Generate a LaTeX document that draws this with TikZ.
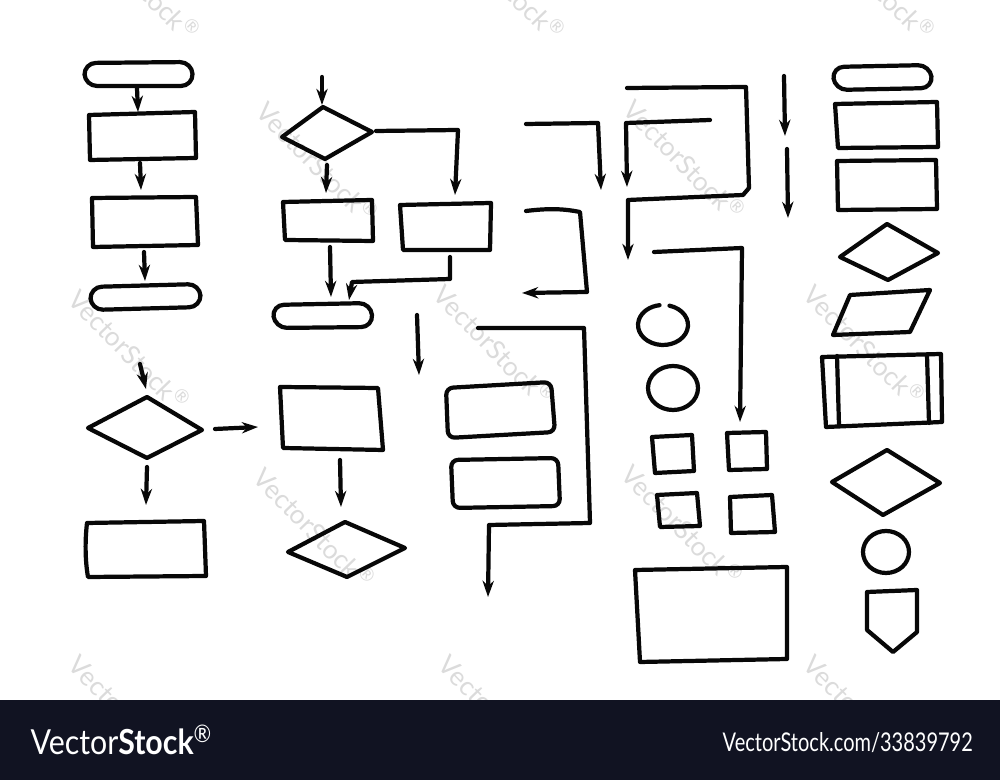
\documentclass[tikz,border=0pt]{standalone}
\usepackage{fontspec}
\newfontfamily\bannerfont{Lato}
\usetikzlibrary{arrows.meta}
\definecolor{banner}{RGB}{17,19,34}
\definecolor{ink}{RGB}{8,8,8}
\tikzset{
  hd/.style={draw=ink,line width=1.2pt,line cap=round,line join=round},
  term/.style={hd,rounded corners=0.12cm},
  rrect/.style={hd,rounded corners=0.07cm},
  arr/.style={hd,-{Stealth[length=4.6pt,width=3.2pt]}},
  wmk/.style={text=gray!28,font=\bannerfont\fontsize{7.5}{8}\selectfont,rotate=-46,inner sep=0pt},
}
\begin{document}
\begin{tikzpicture}[x=0.01cm,y=-0.01cm]
\clip (0,0) rectangle (1000,780);
\fill[white] (0,0) rectangle (1000,780);

% ---------- watermarks ----------
\foreach \wx/\wy [count=\i] in {140/-20,505/-20,875/-20,318/162,685/160,130/350,495/345,865/345,315/528,683/525,130/715,500/715,865/715}
  \node[wmk] (wm\i) at (\wx,\wy) {VectorStock\textsuperscript{®}};

% ---------- column 1 ----------
\draw[term] (84,63) -- (192,62) -- (193,86) -- (85,86) -- cycle;
\draw[arr] (137,88) -- (138,112);
\draw[hd] (89,115) -- (195,112) -- (196,158) -- (90,160) -- cycle;
\draw[arr] (140,163) -- (141,190);
\draw[hd] (92,198) -- (196,197) -- (198,245) -- (93,247) -- cycle;
\draw[arr] (144,252) -- (145,281);
\draw[term] (90,287) -- (200,284) -- (201,307) -- (91,310) -- cycle;

\draw[arr] (140,364) -- (146,389);
\draw[hd] (88,428) -- (147,397) -- (202,430) -- (147,458) -- cycle;
\draw[arr] (215,429) -- (258,427);
\draw[arr] (147,467) -- (146,505);
\draw[hd] (87,523) -- (204,521) -- (206,576) -- (88,577) .. controls (85,560) and (85,540) .. (87,523);

% ---------- column 2 ----------
\draw[arr] (322,77) -- (322,105);
\draw[hd] (282,137) -- (323,107) -- (372,132) -- (325,159) -- cycle;
\draw[arr] (376,131) -- (458,130) -- (455,195);
\draw[arr] (327,165) -- (326,193);
\draw[hd] (283,202) -- (372,200) -- (373,241) -- (285,240) -- cycle;
\draw[hd] (400,205) -- (491,203) -- (490,250) -- (403,250) -- cycle;
\draw[arr] (330,247) -- (331,297);
\draw[arr] (450,257) -- (450,279) -- (352,282) -- (349,300);
\draw[term] (272,305) -- (371,303) -- (373,327) -- (275,328) -- cycle;

\draw[hd] (280,387) -- (378,388) -- (383,450) -- (283,448) -- cycle;
\draw[arr] (340,460) -- (341,507);
\draw[hd] (288,552) -- (345,522) -- (405,548) -- (347,577) -- cycle;
\draw[arr] (417,315) -- (419,375);

% ---------- column 3 ----------
\draw[arr] (526,124) -- (598,123) -- (601,190);
\draw[arr] (627,88) -- (746,87) -- (749,188) -- (743,195) -- (628,200) -- (628,260);
\draw[arr] (710,120) -- (626,123) -- (627,187);
\draw[arr] (526,211) .. controls (550,208) and (565,209) .. (580,212) -- (587,292) -- (522,293);
\draw[arr] (654,252) -- (742,248) -- (740,422);
\draw[arr] (784,76) -- (785,136);
\draw[arr] (787,149) -- (788,218);

\draw[arr] (478,328) -- (584,328) -- (590,523) -- (489,525) -- (488,597);
\draw[rrect] (446,388) -- (551,382) -- (555,432) -- (448,438) -- cycle;
\draw[rrect] (451,460) -- (558,458) -- (560,506) -- (453,508) -- cycle;

% ---------- shapes column ----------
\draw[hd] (663,325) ++(-75:25 and 20) arc[start angle=-75,end angle=262,x radius=25,y radius=20];
\draw[hd] (673,388) ellipse[x radius=25,y radius=22];
\draw[hd] (652,437) -- (692,435) -- (694,471) -- (655,473) -- cycle;
\draw[hd] (727,433) -- (766,432) -- (767,469) -- (729,470) -- cycle;
\draw[hd] (657,495) -- (697,493) -- (700,526) -- (660,527) -- cycle;
\draw[hd] (730,497) -- (772,495) -- (775,532) -- (731,533) -- cycle;
\draw[hd] (635,570) -- (787,567) -- (787,659) -- (640,662) -- cycle;

% ---------- column 4 ----------
\draw[term] (832,67) -- (930,65) -- (933,88) -- (835,90) -- cycle;
\draw[hd] (835,104) -- (937,102) -- (938,147) -- (838,148) -- cycle;
\draw[hd] (837,161) -- (936,160) -- (937,209) -- (838,210) -- cycle;
\draw[hd] (840,257) -- (887,224) -- (938,253) -- (888,280) -- cycle;
\draw[hd] (850,295) -- (930,290) -- (910,332) -- (833,335) -- cycle;
\draw[hd] (822,357) -- (941,354) -- (942,422) -- (826,427) -- cycle;
\draw[hd] (837,356) -- (839,425);
\draw[hd] (927,355) -- (929,423);
\draw[hd] (832,482) -- (887,450) -- (940,483) -- (883,515) -- cycle;
\draw[hd] (886,552) ellipse[x radius=23,y radius=21];
\draw[hd] (867,592) -- (917,590) -- (917,632) -- (893,652) -- (867,630) -- cycle;

% ---------- banner ----------
\fill[banner] (0,700) rectangle (1000,780);
\node[anchor=base west,inner sep=0pt] (logo) at (30,755)
  {\resizebox{1.82cm}{0.30cm}{\color{white}\bannerfont Vector\textbf{Stock}\textsuperscript{®}}};
\node[anchor=base west,inner sep=0pt] (ref) at (722,752)
  {\resizebox{2.50cm}{0.19cm}{\color{white}\bannerfont VectorStock.com/33839792}};
\end{tikzpicture}
\end{document}
